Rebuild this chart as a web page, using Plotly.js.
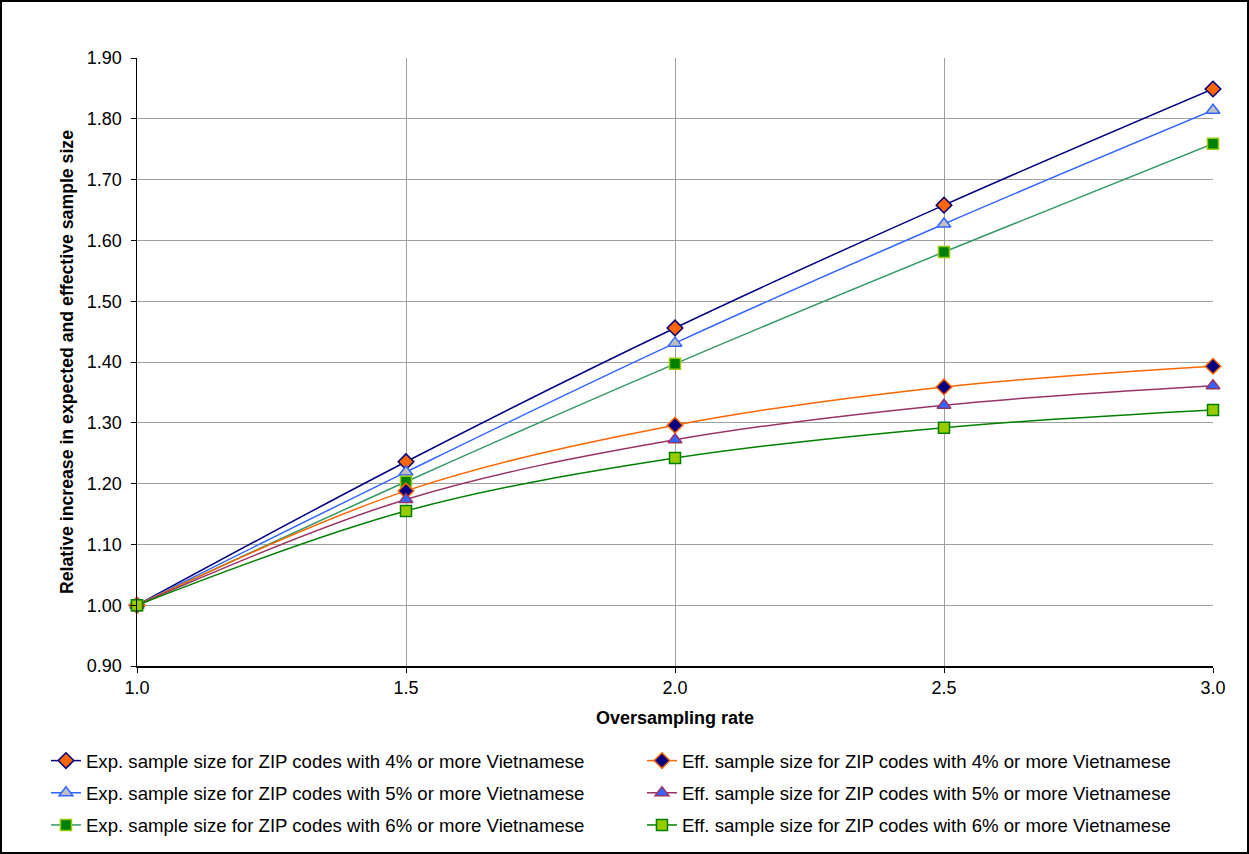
<!DOCTYPE html>
<html>
<head>
<meta charset="utf-8">
<script src="https://cdn.plot.ly/plotly-3.0.1.min.js"></script>
<style>
  html, body { margin: 0; padding: 0; background: #fff; }
  #wrap { position: relative; width: 1249px; height: 854px; }
  #chart { width: 1249px; height: 854px; }
  #frame { position: absolute; left: 0; top: 0; width: 1245px; height: 850px; border: 2px solid #000; pointer-events: none; }
</style>
</head>
<body>
<div id="wrap">
  <div id="chart"></div>
  <div id="frame"></div>
</div>
<script>
// ---- data ----
const oversamplingRate = [1.0, 1.5, 2.0, 2.5, 3.0];
const exp4 = [1.000, 1.236, 1.456, 1.658, 1.849];
const exp5 = [1.000, 1.219, 1.431, 1.627, 1.814];
const exp6 = [1.000, 1.203, 1.397, 1.581, 1.759];
const eff4 = [1.000, 1.188, 1.296, 1.359, 1.393];
const eff5 = [1.000, 1.174, 1.272, 1.329, 1.361];
const eff6 = [1.000, 1.155, 1.242, 1.292, 1.321];
const seriesNames = [
  "Exp. sample size for ZIP codes with 4% or more Vietnamese",
  "Exp. sample size for ZIP codes with 5% or more Vietnamese",
  "Exp. sample size for ZIP codes with 6% or more Vietnamese",
  "Eff. sample size for ZIP codes with 4% or more Vietnamese",
  "Eff. sample size for ZIP codes with 5% or more Vietnamese",
  "Eff. sample size for ZIP codes with 6% or more Vietnamese"
];
const xTitle = "Oversampling rate";
const yTitle = "Relative increase in expected and effective sample size";

// ---- styles ----
const FONT = "Liberation Sans, Arial, sans-serif";
function tr(y, name, lineColor, sym, size, fill, border, legend, group) {
  return {
    x: oversamplingRate, y: y, name: name, type: "scatter", mode: "lines+markers",
    line: { color: lineColor, width: 1.5, shape: "spline", smoothing: 1.0 },
    marker: { symbol: sym, size: size, color: fill, line: { color: border, width: 1.5 } },
    cliponaxis: false, legend: legend, legendgroup: group
  };
}
const data = [
  tr(exp4, seriesNames[0], "#000080", "diamond", 12, "#FF6600", "#000080", "legend", "a"),
  tr(exp5, seriesNames[1], "#3366FF", "triangle-up", 12, "#C0C0C0", "#3366FF", "legend", "b"),
  tr(exp6, seriesNames[2], "#339966", "square", 11, "#008000", "#99CC00", "legend", "c"),
  tr(eff4, seriesNames[3], "#FF6600", "diamond", 12, "#000080", "#FF6600", "legend2", "d"),
  tr(eff5, seriesNames[4], "#993366", "triangle-up", 12, "#3366FF", "#993366", "legend2", "e"),
  tr(eff6, seriesNames[5], "#008000", "square", 11, "#99CC00", "#008000", "legend2", "f")
];

const legendBase = {
  orientation: "v", traceorder: "grouped", tracegroupgap: 5,
  font: { family: FONT, size: 18.6, color: "#000" },
  bgcolor: "rgba(0,0,0,0)",
  yanchor: "top", xanchor: "left", y: -0.125
};

const layout = {
  width: 1249, height: 854,
  margin: { l: 137, r: 36, t: 58, b: 188, autoexpand: false },
  paper_bgcolor: "#fff", plot_bgcolor: "#fff",
  font: { family: FONT, size: 18, color: "#000" },
  showlegend: true,
  legend: Object.assign({}, legendBase, { x: -0.0846 }),
  legend2: Object.assign({}, legendBase, { x: 0.4693 }),
  xaxis: {
    range: [1, 3], dtick: 0.5, tick0: 1, tickformat: ".1f",
    showgrid: true, gridcolor: "#a0a0a0", gridwidth: 1,
    showline: true, linecolor: "#000", linewidth: 1.5,
    ticks: "outside", ticklen: 5, tickcolor: "#000", zeroline: false,
    tickfont: { family: FONT, size: 18 },
    title: { text: "<b>" + xTitle + "</b>", font: { family: FONT, size: 18 }, standoff: 14 }
  },
  yaxis: {
    range: [0.9, 1.9], dtick: 0.1, tick0: 0.9, tickformat: ".2f",
    showgrid: true, gridcolor: "#a0a0a0", gridwidth: 1,
    showline: true, linecolor: "#000", linewidth: 1.5,
    ticks: "outside", ticklen: 5, tickcolor: "#000", zeroline: false,
    ticklabelstandoff: 5,
    tickfont: { family: FONT, size: 18 },
    title: { text: "<b>" + yTitle + "</b>", font: { family: FONT, size: 17.7 }, standoff: 8 }
  }
};

Plotly.newPlot("chart", data, layout, { staticPlot: true, displayModeBar: false });
</script>
</body>
</html>
